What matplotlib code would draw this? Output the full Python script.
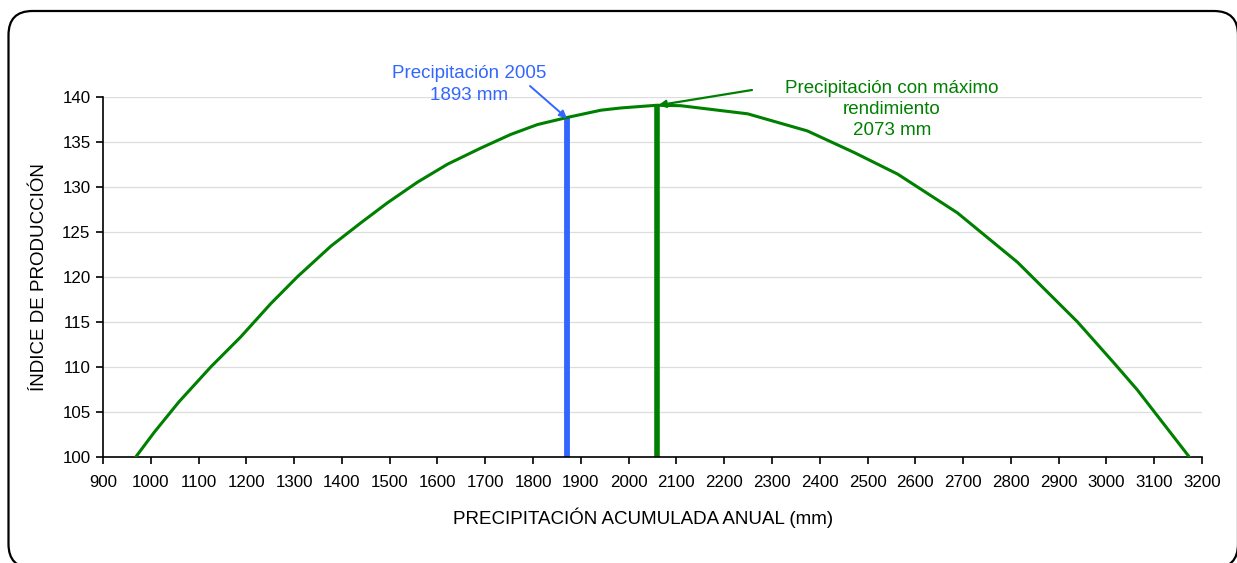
import matplotlib
matplotlib.use("Agg")
import matplotlib.pyplot as plt
from matplotlib.patches import FancyBboxPatch

plt.rcParams['font.family'] = ['Liberation Sans', 'DejaVu Sans']

# Curve
precip = [969, 1007, 1059, 1126, 1188, 1251, 1307, 1377, 1440, 1495, 1558, 1621,
          1691, 1753, 1809, 1872, 1942, 1984, 2059, 2109, 2249, 2374, 2472, 2563,
          2688, 2814, 2939, 3016, 3065, 3173]
indice = [100.0, 102.7, 106.1, 110.0, 113.3, 117.0, 120.0, 123.4, 126.0, 128.2,
          130.5, 132.5, 134.3, 135.8, 136.9, 137.7, 138.5, 138.75, 139.05, 139.0,
          138.1, 136.2, 133.8, 131.4, 127.1, 121.6, 115.0, 110.4, 107.4, 100.0]

x_2005 = 1871
y_2005_top = 137.6
x_max = 2060
y_max_top = 139.05

x_ticks = list(range(900, 3201, 100))
y_ticks = list(range(100, 141, 5))

W, H = 1237, 563
fig = plt.figure(figsize=(W / 100, H / 100), dpi=100)

# background axes in pixel units (origin bottom-left) for the rounded frame
bg = fig.add_axes([0, 0, 1, 1])
bg.set_xlim(0, W)
bg.set_ylim(0, H)
bg.axis('off')
left, top, right, bottom = 8.5, 11, 1238, 568
bg.add_patch(FancyBboxPatch((left, H - bottom), right - left, bottom - top,
                            boxstyle="round,pad=0,rounding_size=24",
                            fill=False, ec='black', lw=1.6, clip_on=False))

ax = fig.add_axes([103 / W, 1 - 456.7 / H, (1202 - 103) / W, (456.7 - 96.7) / H])

ax.plot(precip, indice, color='#008000', lw=2.2, zorder=3)
ax.vlines(x_2005, 100, y_2005_top, color='#3366FF', lw=4.2, zorder=2)
ax.vlines(x_max, 100, y_max_top, color='#008000', lw=4.0, zorder=2)

ax.set_xlim(900, 3200)
ax.set_ylim(100, 140)
ax.set_xticks(x_ticks)
ax.set_yticks(y_ticks)
ax.tick_params(axis='both', direction='out', length=5, width=1.2, labelsize=12.2,
               colors='black')
ax.tick_params(axis='x', pad=8)
ax.tick_params(axis='y', pad=4)
for s in ['top', 'right']:
    ax.spines[s].set_visible(False)
for s in ['left', 'bottom']:
    ax.spines[s].set_linewidth(1.2)
ax.yaxis.grid(True, color='#dddddd', lw=0.9)
ax.set_axisbelow(True)

ax.set_xlabel('PRECIPITACIÓN ACUMULADA ANUAL (mm)', fontsize=13.5, va='center')
ax.set_ylabel('ÍNDICE DE PRODUCCIÓN', fontsize=13.5, va='center')
ax.xaxis.set_label_coords((643 - 103) / 1099, -(518 - 456.7) / 360)
ax.yaxis.set_label_coords((40 - 103) / 1099, 0.5)

fig.text(469 / W, 1 - 84.5 / H, 'Precipitación 2005\n1893 mm',
         ha='center', va='center', color='#3366FF', fontsize=13.5, linespacing=1.32)
ax.annotate('', xy=(x_2005, y_2005_top), xytext=(530, H - 86),
            textcoords='figure pixels',
            arrowprops=dict(arrowstyle='-|>', color='#3366FF', lw=1.4,
                            shrinkA=0, shrinkB=0, mutation_scale=11))
ax.annotate('', xy=(x_max + 2, y_max_top), xytext=(752, H - 90),
            textcoords='figure pixels',
            arrowprops=dict(arrowstyle='-|>', color='#008000', lw=1.6,
                            shrinkA=0, shrinkB=0, mutation_scale=11))
fig.text(892 / W, 1 - 109.5 / H, 'Precipitación con máximo\nrendimiento\n2073 mm',
         ha='center', va='center', color='#008000', fontsize=13.5, linespacing=1.31)

fig.savefig('out.png', dpi=100)
